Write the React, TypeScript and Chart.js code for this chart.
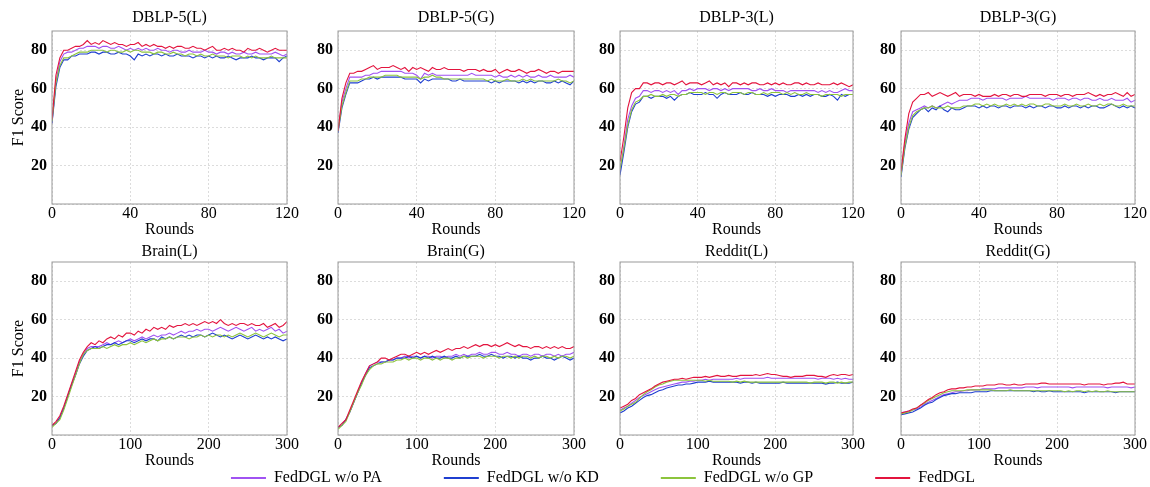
import React, { useEffect, useRef } from "react";
import { Chart, registerables } from "chart.js";

Chart.register(...registerables);

const FONT = "'Liberation Serif', 'Times New Roman', serif";

// ---------- categories / labels ----------
const seriesNames = ["FedDGL w/o PA", "FedDGL w/o KD", "FedDGL w/o GP", "FedDGL"];
const seriesColors = ["#a052f2", "#1f3fd0", "#8cc43c", "#e3143e"];
const seriesOrder = [3, 2, 1, 0];

const roundsShort = [
  0, 2, 4, 6, 8, 10, 12, 14, 16, 18,
  20, 22, 24, 26, 28, 30, 32, 34, 36, 38,
  40, 42, 44, 46, 48, 50, 52, 54, 56, 58,
  60, 62, 64, 66, 68, 70, 72, 74, 76, 78,
  80, 82, 84, 86, 88, 90, 92, 94, 96, 98,
  100, 102, 104, 106, 108, 110, 112, 114, 116, 118,
  120,
];
const roundsLong = [
  0, 5, 10, 15, 20, 25, 30, 35, 40, 45,
  50, 55, 60, 65, 70, 75, 80, 85, 90, 95,
  100, 105, 110, 115, 120, 125, 130, 135, 140, 145,
  150, 155, 160, 165, 170, 175, 180, 185, 190, 195,
  200, 205, 210, 215, 220, 225, 230, 235, 240, 245,
  250, 255, 260, 265, 270, 275, 280, 285, 290, 295,
  300,
];
const ticksShort = [0, 40, 80, 120];
const ticksLong = [0, 100, 200, 300];
const yTicks = [20, 40, 60, 80];

// ---------- DBLP-5(L) ----------
const dblp5L_PA = [
  42, 64, 74, 78, 79, 79, 80, 81, 81, 82,
  82, 82, 81, 82, 82, 81, 81, 82, 81, 80,
  81, 80, 81, 80, 81, 80, 80, 81, 80, 80,
  79, 80, 80, 79, 79, 80, 79, 79, 79, 80,
  79, 79, 78, 79, 79, 78, 79, 78, 78, 79,
  78, 78, 79, 78, 78, 78, 78, 79, 78, 77,
  78,
];
const dblp5L_KD = [
  42, 61, 71, 75, 75, 77, 77, 78, 78, 78,
  79, 79, 78, 79, 79, 78, 78, 79, 78, 78,
  77, 75, 78, 77, 78, 77, 78, 78, 77, 78,
  77, 77, 78, 77, 77, 77, 76, 77, 77, 76,
  77, 76, 77, 76, 76, 77, 76, 75, 76, 76,
  76, 77, 76, 76, 75, 76, 76, 76, 74, 76,
  77,
];
const dblp5L_GP = [
  43, 63, 72, 76, 76, 77, 78, 79, 79, 79,
  80, 80, 80, 80, 79, 80, 80, 79, 79, 80,
  79, 80, 80, 79, 79, 79, 78, 79, 79, 78,
  78, 79, 78, 78, 77, 78, 78, 77, 78, 77,
  77, 78, 77, 77, 77, 76, 77, 77, 77, 76,
  77, 76, 77, 76, 76, 76, 77, 76, 76, 76,
  76,
];
const dblp5L_Full = [
  44, 67, 76, 80, 80, 81, 82, 82, 83, 85,
  83, 84, 83, 85, 84, 83, 84, 83, 83, 82,
  83, 83, 84, 82, 83, 82, 83, 82, 82, 81,
  82, 81, 82, 82, 81, 81, 82, 81, 81, 80,
  81, 82, 80, 80, 81, 80, 81, 80, 80, 79,
  81, 80, 80, 81, 80, 79, 80, 81, 80, 80,
  80,
];

// ---------- DBLP-5(G) ----------
const dblp5G_PA = [
  38, 53, 60, 66, 66, 66, 66, 67, 67, 68,
  68, 69, 69, 69, 69, 69, 69, 68, 68, 68,
  67, 65, 68, 67, 68, 67, 67, 67, 67, 67,
  67, 67, 67, 67, 68, 67, 67, 67, 67, 67,
  66, 67, 66, 66, 67, 66, 67, 66, 67, 66,
  66, 67, 66, 66, 67, 66, 66, 66, 66, 67,
  66,
];
const dblp5G_KD = [
  37, 50, 57, 63, 63, 63, 64, 65, 65, 66,
  65, 66, 66, 66, 66, 66, 66, 65, 65, 65,
  65, 63, 65, 64, 65, 65, 65, 65, 65, 64,
  64, 65, 64, 64, 64, 64, 64, 64, 64, 63,
  64, 63, 64, 64, 64, 64, 63, 64, 63, 64,
  63, 64, 64, 63, 63, 64, 63, 64, 63, 62,
  64,
];
const dblp5G_GP = [
  38, 51, 58, 64, 64, 64, 65, 65, 66, 66,
  66, 66, 67, 67, 67, 67, 66, 66, 66, 66,
  66, 65, 66, 66, 67, 66, 66, 65, 65, 65,
  65, 65, 65, 65, 65, 65, 65, 65, 64, 65,
  64, 64, 64, 65, 64, 64, 64, 65, 64, 65,
  64, 64, 64, 64, 64, 64, 65, 64, 64, 63,
  64,
];
const dblp5G_Full = [
  38, 55, 63, 68, 68, 69, 69, 70, 71, 72,
  70, 71, 71, 71, 72, 71, 70, 71, 69, 71,
  70, 71, 70, 69, 71, 70, 70, 71, 70, 70,
  70, 70, 69, 70, 70, 70, 69, 70, 69, 69,
  70, 68, 69, 70, 69, 69, 70, 69, 68, 69,
  69, 70, 69, 68, 69, 69, 68, 69, 69, 69,
  69,
];

// ---------- DBLP-3(L) ----------
const dblp3L_PA = [
  17, 30, 44, 51, 55, 56, 59, 59, 58, 59,
  59, 58, 59, 58, 59, 57, 59, 59, 60, 59,
  60, 60, 60, 59, 60, 60, 59, 60, 59, 60,
  60, 60, 60, 60, 59, 59, 60, 59, 59, 60,
  59, 59, 59, 58, 59, 59, 59, 59, 59, 59,
  59, 58, 59, 58, 59, 58, 58, 59, 60, 59,
  59,
];
const dblp3L_KD = [
  15, 27, 40, 48, 52, 53, 56, 56, 55, 56,
  56, 56, 55, 56, 54, 56, 57, 57, 58, 57,
  57, 57, 58, 57, 57, 55, 57, 58, 57, 57,
  57, 58, 57, 57, 58, 57, 57, 57, 56, 57,
  56, 57, 57, 57, 56, 56, 57, 56, 57, 56,
  57, 57, 56, 56, 57, 56, 54, 57, 56, 57,
  57,
];
const dblp3L_GP = [
  18, 29, 41, 49, 53, 54, 56, 56, 57, 56,
  56, 57, 56, 57, 57, 56, 57, 57, 58, 58,
  58, 58, 57, 58, 58, 57, 58, 58, 57, 58,
  58, 58, 57, 58, 58, 57, 57, 58, 57, 58,
  58, 58, 57, 58, 57, 58, 57, 57, 58, 57,
  57, 57, 56, 57, 57, 57, 57, 56, 57, 57,
  57,
];
const dblp3L_Full = [
  22, 35, 50, 58, 60, 60, 63, 63, 62, 63,
  63, 62, 63, 63, 62, 63, 64, 62, 63, 63,
  63, 62, 63, 64, 62, 63, 62, 63, 61, 63,
  63, 62, 63, 62, 63, 63, 62, 62, 63, 62,
  63, 62, 63, 62, 62, 63, 63, 62, 63, 62,
  62, 63, 62, 62, 62, 63, 62, 63, 62, 61,
  62,
];

// ---------- DBLP-3(G) ----------
const dblp3G_PA = [
  16, 32, 42, 48, 49, 50, 51, 50, 51, 50,
  51, 52, 53, 52, 53, 54, 54, 54, 55, 55,
  55, 54, 55, 55, 55, 55, 55, 54, 55, 55,
  55, 55, 56, 55, 55, 55, 55, 55, 55, 54,
  55, 55, 55, 54, 55, 55, 54, 55, 55, 54,
  54, 55, 54, 54, 55, 54, 54, 54, 55, 53,
  54,
];
const dblp3G_KD = [
  14, 29, 39, 45, 47, 49, 50, 48, 50, 49,
  51, 49, 48, 50, 49, 49, 50, 51, 51, 51,
  50, 51, 50, 51, 51, 50, 51, 51, 50, 51,
  51, 51, 50, 51, 50, 51, 51, 50, 51, 51,
  50, 50, 51, 50, 51, 51, 50, 51, 50, 51,
  51, 50, 50, 51, 52, 51, 50, 51, 50, 51,
  50,
];
const dblp3G_GP = [
  15, 30, 40, 46, 48, 49, 50, 50, 51, 50,
  50, 50, 51, 50, 50, 50, 51, 51, 51, 52,
  52, 51, 52, 51, 52, 51, 51, 52, 51, 52,
  51, 52, 51, 52, 52, 51, 51, 52, 52, 51,
  51, 51, 52, 51, 51, 52, 51, 51, 52, 51,
  51, 52, 51, 52, 52, 51, 51, 52, 51, 51,
  51,
];
const dblp3G_Full = [
  17, 34, 47, 53, 55, 57, 57, 58, 56, 57,
  58, 57, 56, 57, 58, 56, 57, 57, 57, 56,
  57, 56, 56, 56, 57, 56, 57, 57, 56, 57,
  57, 56, 56, 57, 57, 57, 57, 56, 57, 57,
  57, 56, 57, 57, 56, 57, 57, 57, 58, 57,
  56, 57, 56, 57, 57, 58, 57, 56, 58, 56,
  57,
];

// ---------- Brain(L) ----------
const brainL_PA = [
  5, 6, 9, 14, 20, 26, 32, 38, 42, 45,
  46, 46, 46, 47, 48, 47, 48, 49, 48, 49,
  50, 49, 50, 51, 50, 51, 52, 51, 52, 52,
  53, 52, 53, 54, 53, 54, 54, 55, 54, 55,
  55, 54, 55, 56, 55, 54, 55, 56, 55, 54,
  55, 56, 54, 55, 54, 55, 56, 54, 55, 53,
  54,
];
const brainL_KD = [
  5, 6, 9, 14, 20, 26, 31, 37, 41, 44,
  45, 46, 45, 46, 47, 47, 48, 47, 48, 49,
  49, 48, 49, 50, 49, 50, 50, 49, 51, 50,
  51, 50, 51, 52, 51, 52, 51, 52, 52, 51,
  52, 53, 52, 51, 52, 51, 50, 51, 52, 51,
  50, 51, 52, 51, 50, 51, 50, 51, 50, 49,
  50,
];
const brainL_GP = [
  4, 6, 8, 13, 19, 25, 31, 37, 42, 44,
  45, 45, 45, 46, 45, 46, 47, 46, 47, 47,
  48, 47, 48, 49, 48, 49, 50, 49, 50, 50,
  51, 50, 51, 51, 51, 50, 51, 51, 52, 51,
  52, 51, 52, 52, 51, 52, 51, 52, 53, 52,
  51, 52, 53, 52, 51, 52, 53, 52, 51, 52,
  52,
];
const brainL_Full = [
  5, 7, 10, 15, 21, 27, 33, 39, 43, 46,
  48, 47, 49, 48, 50, 51, 50, 52, 51, 53,
  53, 52, 54, 53, 55, 54, 56, 55, 56, 55,
  57, 56, 57, 57, 58, 57, 58, 57, 58, 59,
  58, 59, 58, 60, 58, 57, 58, 57, 58, 58,
  57, 58, 57, 57, 58, 56, 57, 58, 56, 57,
  59,
];

// ---------- Brain(G) ----------
const brainG_PA = [
  4, 5, 8, 12, 17, 22, 27, 32, 36, 37,
  38, 38, 38, 39, 39, 40, 40, 41, 40, 41,
  41, 40, 41, 41, 40, 41, 41, 40, 41, 41,
  42, 41, 42, 41, 42, 42, 43, 42, 42, 43,
  43, 42, 42, 43, 42, 42, 41, 42, 42, 41,
  42, 42, 41, 42, 42, 41, 42, 41, 42, 42,
  43,
];
const brainG_KD = [
  4, 5, 8, 12, 17, 22, 27, 31, 35, 36,
  37, 38, 38, 39, 39, 40, 40, 40, 41, 40,
  41, 40, 41, 40, 41, 40, 40, 41, 40, 40,
  41, 40, 41, 41, 41, 41, 42, 41, 41, 42,
  41, 41, 40, 41, 41, 40, 41, 40, 40, 39,
  40, 40, 41, 40, 40, 39, 40, 41, 40, 39,
  40,
];
const brainG_GP = [
  3, 5, 7, 12, 17, 22, 26, 31, 34, 36,
  37, 37, 38, 38, 38, 39, 39, 40, 39, 40,
  40, 39, 40, 40, 39, 40, 39, 40, 40, 39,
  40, 40, 41, 40, 41, 41, 41, 40, 41, 41,
  41, 40, 41, 41, 40, 41, 40, 41, 41, 40,
  41, 40, 41, 41, 40, 41, 40, 41, 41, 40,
  41,
];
const brainG_Full = [
  4, 6, 8, 13, 18, 23, 28, 32, 36, 37,
  38, 40, 40, 39, 40, 41, 42, 42, 41, 42,
  43, 42, 43, 42, 43, 44, 43, 44, 45, 44,
  45, 45, 46, 45, 46, 47, 46, 47, 47, 46,
  47, 46, 47, 48, 47, 46, 47, 46, 46, 45,
  46, 46, 45, 46, 45, 46, 45, 46, 45, 45,
  46,
];

// ---------- Reddit(L) ----------
const redditL_PA = [
  13, 14, 15, 16.5, 18, 19.5, 20.5, 21.5, 22.5, 23.5,
  24.5, 25, 25.5, 26, 26.5, 27, 27.5, 27.5, 28, 28,
  28.5, 28.5, 29, 28.5, 29, 29, 29, 29, 29, 29,
  29.5, 29, 29.5, 29.5, 29.5, 29.5, 29.5, 29.5, 30, 29.5,
  29.5, 29.5, 29.5, 29.5, 29.5, 29.5, 29.5, 29.5, 29.5, 29.5,
  29.5, 29, 29.5, 29.5, 29.5, 29, 29.5, 29, 29.5, 29,
  29,
];
const redditL_KD = [
  11.5, 12.5, 14, 15, 16.5, 18, 19.5, 20.5, 21, 22,
  23, 23.5, 24.5, 25, 25.5, 26, 26, 26.5, 26.5, 27,
  27.5, 27.5, 27.5, 28, 27.5, 27.5, 27.5, 27.5, 27.5, 27.5,
  27.5, 27, 27.5, 27.5, 27, 27.5, 27, 27, 27, 27,
  27, 27, 27.5, 27, 27, 27, 27, 27, 27, 27,
  27, 27, 27, 26.5, 27, 27, 27.5, 27, 27, 27,
  27.5,
];
const redditL_GP = [
  12.5, 13.5, 15, 16, 17, 19, 21, 22.5, 23.5, 25,
  26, 26.5, 27.5, 28, 28.5, 28.5, 28.5, 28.5, 28.5, 28.5,
  28.5, 28.5, 28, 28.5, 28, 28, 28, 28, 28, 27.5,
  28, 27.5, 28, 27.5, 27.5, 27.5, 27.5, 27.5, 27.5, 27.5,
  27.5, 27.5, 27.5, 27.5, 27.5, 27.5, 27.5, 27.5, 27.5, 27,
  27.5, 27.5, 27.5, 27, 27.5, 27.5, 27, 27.5, 27, 27.5,
  27.5,
];
const redditL_Full = [
  14, 15, 16, 18, 19, 21, 22, 23, 24, 25.5,
  26.5, 27.5, 28, 28.5, 29, 29, 29.5, 29, 29.5, 30,
  30, 30, 30.5, 30, 30.5, 31, 30.5, 30.5, 31, 30.5,
  30.5, 31, 31, 31, 31, 31.5, 31, 31.5, 32, 31.5,
  31.5, 31, 30.5, 30.5, 30, 30.5, 30.5, 30.5, 31, 31,
  31, 30.5, 30.5, 30, 31, 31.5, 31, 31.5, 31.5, 31,
  31.5,
];

// ---------- Reddit(G) ----------
const redditG_PA = [
  11.5, 12, 12.5, 13, 13.5, 14.5, 16, 17, 18, 19,
  20, 21, 21.5, 22, 22.5, 22.5, 23, 23, 23.5, 23.5,
  23.5, 24, 24, 24, 24, 24.5, 24.5, 24.5, 24.5, 24.5,
  24.5, 24.5, 25, 25, 25, 24.5, 25, 25, 25, 25,
  25, 25, 25, 25, 24.5, 25, 25, 25, 25, 25,
  25, 25, 25, 24.5, 25, 25, 25, 25, 25, 24.5,
  25,
];
const redditG_KD = [
  10.5, 11, 11.5, 12, 13, 14, 15.5, 16.5, 17, 18.5,
  19.5, 20.5, 21, 21.5, 21.5, 22, 22, 22, 22, 22.5,
  22.5, 22.5, 22.5, 23, 23, 23, 23, 23, 23, 23,
  23, 23, 23, 23, 22.5, 23, 22.5, 22.5, 23, 22.5,
  22.5, 22.5, 22.5, 22.5, 22.5, 22.5, 22.5, 22, 22.5, 22.5,
  22.5, 22.5, 22.5, 22.5, 22.5, 22, 22.5, 22.5, 22.5, 22.5,
  22.5,
];
const redditG_GP = [
  11, 11.5, 12, 13, 14, 15.5, 16.5, 18, 19, 20,
  21, 22, 22.5, 23, 23, 23, 23, 23.5, 23.5, 23.5,
  23.5, 23.5, 23.5, 23.5, 23, 23, 23, 23, 23.5, 23,
  23, 23, 23, 23, 23, 23, 23, 23, 23, 23,
  23, 23, 22.5, 23, 22.5, 23, 23, 22.5, 23, 22.5,
  23, 22.5, 22.5, 23, 22.5, 22.5, 22.5, 22.5, 22.5, 22.5,
  22.5,
];
const redditG_Full = [
  11.5, 12, 12.5, 13.5, 14, 15.5, 17, 18.5, 19.5, 21,
  22, 22.5, 23.5, 24, 24, 24.5, 24.5, 25, 25, 25.5,
  25.5, 25.5, 26, 26, 26, 26.5, 26.5, 26, 26, 26.5,
  26, 26, 26.5, 26.5, 26.5, 26.5, 27, 27, 26.5, 26.5,
  26.5, 26.5, 26.5, 26.5, 26.5, 26.5, 26.5, 26, 26.5, 26.5,
  26.5, 26.5, 26, 26.5, 26.5, 27, 27, 27.5, 26.5, 26.5,
  26.5,
];

// ---------- panel layout (positions only) ----------
type PanelCfg = {
  title: string;
  rounds: number[];
  xTicks: number[];
  series: number[][];
  left: number;
  right: number;
  top: number;
  bottom: number;
  yTitle: boolean;
  titleGap: number;
};

const colL = [52, 338, 620, 901];
const colR = [287, 574, 853, 1135];
const rowT = [31, 262];
const rowB = [204, 435];
const rowTitleGap = [3, 0];

const panelDefs: { title: string; rounds: number[]; xTicks: number[]; series: number[][] }[] = [
  { title: "DBLP-5(L)", rounds: roundsShort, xTicks: ticksShort, series: [dblp5L_PA, dblp5L_KD, dblp5L_GP, dblp5L_Full] },
  { title: "DBLP-5(G)", rounds: roundsShort, xTicks: ticksShort, series: [dblp5G_PA, dblp5G_KD, dblp5G_GP, dblp5G_Full] },
  { title: "DBLP-3(L)", rounds: roundsShort, xTicks: ticksShort, series: [dblp3L_PA, dblp3L_KD, dblp3L_GP, dblp3L_Full] },
  { title: "DBLP-3(G)", rounds: roundsShort, xTicks: ticksShort, series: [dblp3G_PA, dblp3G_KD, dblp3G_GP, dblp3G_Full] },
  { title: "Brain(L)", rounds: roundsLong, xTicks: ticksLong, series: [brainL_PA, brainL_KD, brainL_GP, brainL_Full] },
  { title: "Brain(G)", rounds: roundsLong, xTicks: ticksLong, series: [brainG_PA, brainG_KD, brainG_GP, brainG_Full] },
  { title: "Reddit(L)", rounds: roundsLong, xTicks: ticksLong, series: [redditL_PA, redditL_KD, redditL_GP, redditL_Full] },
  { title: "Reddit(G)", rounds: roundsLong, xTicks: ticksLong, series: [redditG_PA, redditG_KD, redditG_GP, redditG_Full] },
];

const panels: PanelCfg[] = panelDefs.map((p, i) => {
  const c = i % 4;
  const r = Math.floor(i / 4);
  return {
    ...p,
    left: colL[c],
    right: colR[c],
    top: rowT[r],
    bottom: rowB[r],
    yTitle: c === 0,
    titleGap: rowTitleGap[r],
  };
});

const boxPlugin = {
  id: "plotBox",
  afterDatasetsDraw(chart: any) {
    const { ctx, chartArea } = chart;
    if (!chartArea) return;
    ctx.save();
    ctx.strokeStyle = "#9a9a9a";
    ctx.lineWidth = 1;
    ctx.strokeRect(chartArea.left, chartArea.top, chartArea.right - chartArea.left, chartArea.bottom - chartArea.top);
    ctx.restore();
  },
};

function Panel({ cfg }: { cfg: PanelCfg }) {
  const ref = useRef<HTMLCanvasElement>(null);
  const YW = cfg.yTitle ? 52 : 46;
  const R = 16;
  const TH = 20 + cfg.titleGap;
  const XH = 35;
  const plotW = cfg.right - cfg.left;
  const plotH = cfg.bottom - cfg.top;
  const W = YW + plotW + R;
  const H = TH + plotH + XH;
  const cl = cfg.left - YW;
  const ct = cfg.top - TH;

  useEffect(() => {
    if (!ref.current) return;
    const xMax = cfg.xTicks[cfg.xTicks.length - 1];
    const chart = new Chart(ref.current, {
      type: "line",
      data: {
        datasets: cfg.series.map((vals, k) => ({
          label: seriesNames[k],
          data: vals.map((v, i) => ({ x: cfg.rounds[i], y: v })),
          borderColor: seriesColors[k],
          backgroundColor: seriesColors[k],
          borderWidth: 1.1,
          pointRadius: 0,
          tension: 0,
          fill: false,
          order: seriesOrder[k],
        })),
      },
      options: {
        responsive: false,
        animation: false,
        devicePixelRatio: 1,
        events: [],
        layout: { padding: { left: 0, right: R, top: 0, bottom: 0 } },
        plugins: {
          legend: { display: false },
          tooltip: { enabled: false },
          title: {
            display: true,
            text: cfg.title,
            fullSize: false,
            color: "#000",
            font: { family: FONT, size: 16, weight: "normal", lineHeight: 1.25 },
            padding: { top: 0, bottom: cfg.titleGap },
          },
        },
        scales: {
          x: {
            type: "linear",
            min: 0,
            max: xMax,
            afterBuildTicks: (s: any) => {
              s.ticks = cfg.xTicks.map((v) => ({ value: v }));
            },
            ticks: {
              color: "#000",
              font: { family: FONT, size: 16, weight: "normal" },
              padding: 0,
              maxRotation: 0,
              autoSkip: false,
            },
            grid: { color: "#dcdcdc", lineWidth: 1, drawTicks: false },
            border: { display: false, dash: [2, 2] },
            title: {
              display: true,
              text: "Rounds",
              color: "#000",
              font: { family: FONT, size: 16, weight: "normal" },
              padding: 0,
            },
            afterFit: (s: any) => {
              s.height = XH;
              s.paddingLeft = 0;
              s.paddingRight = 0;
            },
          },
          y: {
            type: "linear",
            min: 0,
            max: 90,
            afterBuildTicks: (s: any) => {
              s.ticks = [0, ...yTicks].map((v) => ({ value: v }));
            },
            ticks: {
              color: "#000",
              font: { family: FONT, size: 16, weight: "bold" },
              padding: 5,
              callback: (v: any) => (v === 0 ? "" : String(v)),
            },
            grid: { color: "#dcdcdc", lineWidth: 1, drawTicks: false },
            border: { display: false, dash: [2, 2] },
            title: {
              display: cfg.yTitle,
              text: "F1 Score",
              color: "#000",
              font: { family: FONT, size: 16, weight: "normal" },
              padding: { top: 9, bottom: 0 },
            },
            afterFit: (s: any) => {
              s.width = YW;
              s.paddingTop = 0;
              s.paddingBottom = 0;
            },
          },
        },
      } as any,
      plugins: [boxPlugin],
    });
    return () => chart.destroy();
  }, []);

  return (
    <canvas
      ref={ref}
      width={W}
      height={H}
      style={{ position: "absolute", left: cl, top: ct, width: W, height: H }}
    />
  );
}

function Legend() {
  const ref = useRef<HTMLCanvasElement>(null);
  useEffect(() => {
    if (!ref.current) return;
    const chart = new Chart(ref.current, {
      type: "line",
      data: {
        datasets: seriesNames.map((n, k) => ({
          label: n,
          data: [],
          borderColor: seriesColors[k],
          backgroundColor: seriesColors[k],
        })),
      },
      options: {
        responsive: false,
        animation: false,
        devicePixelRatio: 1,
        events: [],
        layout: { padding: { left: 56, right: 0, top: 0, bottom: 0 } },
        scales: { x: { display: false }, y: { display: false } },
        plugins: {
          tooltip: { enabled: false },
          legend: {
            display: true,
            position: "top",
            labels: {
              color: "#000",
              font: { family: FONT, size: 16, weight: "normal" },
              boxWidth: 35,
              boxHeight: 2,
              padding: 62,
              generateLabels: () =>
                seriesNames.map((n, k) => ({
                  text: n,
                  fillStyle: seriesColors[k],
                  strokeStyle: seriesColors[k],
                  lineWidth: 0,
                  hidden: false,
                  datasetIndex: k,
                  fontColor: "#000",
                })),
            },
          },
        },
      } as any,
    });
    return () => chart.destroy();
  }, []);
  return (
    <canvas
      ref={ref}
      width={1150}
      height={260}
      style={{ position: "absolute", left: 0, top: 408, width: 1150, height: 260 }}
    />
  );
}

export default function App() {
  return (
    <div
      style={{
        position: "fixed",
        left: 0,
        top: 0,
        width: 1150,
        height: 487,
        background: "#fff",
        overflow: "hidden",
      }}
    >
      {panels.map((p, i) => (
        <Panel key={i} cfg={p} />
      ))}
      <Legend />
    </div>
  );
}
